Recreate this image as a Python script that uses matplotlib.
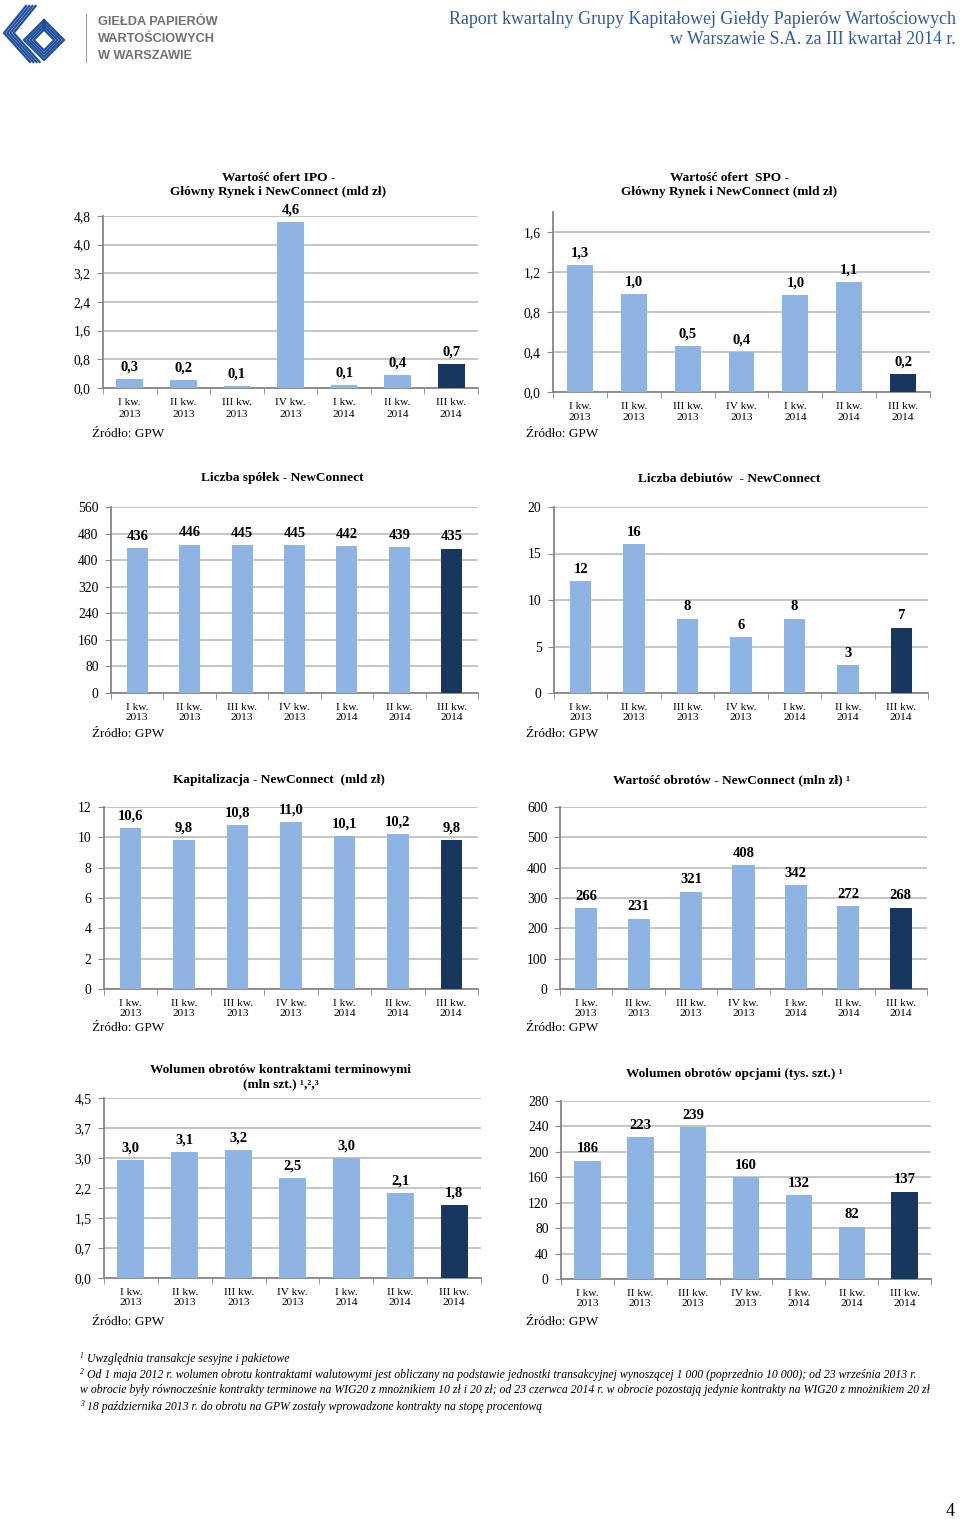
import matplotlib
matplotlib.use("Agg")
import matplotlib.pyplot as plt
from matplotlib.lines import Line2D

plt.rcParams["font.family"] = ["Liberation Serif", "DejaVu Serif"]

W, H = 960, 1519
LIGHT = "#8DB4E2"
DARK = "#17375E"
GRID = "#BFBFBF"
AXIS = "#868686"

# --- data -----------------------------------------------------------------
quarters = ["I kw.\n2013", "II kw.\n2013", "III kw.\n2013", "IV kw.\n2013",
            "I kw.\n2014", "II kw.\n2014", "III kw.\n2014"]

ipo_value = [0.26, 0.22, 0.06, 4.64, 0.08, 0.37, 0.66]
spo_value = [1.27, 0.98, 0.46, 0.40, 0.97, 1.10, 0.18]
nc_companies = [436, 446, 445, 445, 442, 439, 435]
nc_debuts = [12, 16, 8, 6, 8, 3, 7]
nc_cap = [10.6, 9.8, 10.8, 11.0, 10.1, 10.2, 9.8]
nc_turnover = [266, 231, 321, 408, 342, 272, 268]
futures_vol = [2.96, 3.14, 3.21, 2.51, 3.00, 2.12, 1.82]
options_vol = [186, 223, 239, 160, 132, 82, 137]

futures_ticks = [0, 0.75, 1.5, 2.25, 3.0, 3.75, 4.5]
futures_ticklabels = ["0,0", "0,7", "1,5", "2,2", "3,0", "3,7", "4,5"]


def fx(x):
    return x / W


def fy(y):
    return 1 - y / H


def comma(v, dec):
    return f"{v:.{dec}f}".replace(".", ",")


def bar_chart(fig, box, values, title, title_y, ylim, yticks, ylabels,
              dec, width, src_y, src_x, tick_gap=1.15, tick_pad=7):
    x0, x1, y0, y1 = box  # pixel coords: left, right, zero line, top
    ax = fig.add_axes([fx(x0), fy(y0), (x1 - x0) / W, (y0 - y1) / H])
    colors = [LIGHT] * (len(values) - 1) + [DARK]
    ax.bar(range(len(values)), values, width=width, color=colors, zorder=3)
    ax.set_xlim(-0.5, len(values) - 0.5)
    ax.set_ylim(*ylim)
    ax.set_yticks(yticks)
    ax.set_yticklabels(ylabels, fontsize=9.8)
    ax.set_xticks(range(len(values)))
    ax.set_xticklabels(quarters, fontsize=8.2, linespacing=tick_gap)
    ax.set_xticks([i - 0.5 for i in range(len(values) + 1)], minor=True)
    ax.tick_params(axis="x", which="major", length=0, pad=tick_pad)
    ax.tick_params(axis="x", which="minor", length=4, color=AXIS, direction="out")
    ax.tick_params(axis="y", length=4, color=AXIS, pad=5)
    ax.grid(axis="y", color=GRID, linewidth=1.3, zorder=0)
    for s in ["top", "right"]:
        ax.spines[s].set_visible(False)
    for s in ["left", "bottom"]:
        ax.spines[s].set_color(AXIS)
        ax.spines[s].set_linewidth(1.3)
    for i, v in enumerate(values):
        ax.annotate(comma(v, dec), (i, v), xytext=(0, 4), textcoords="offset points",
                    ha="center", va="bottom", fontsize=10.5, fontweight="bold")
    cx = (x0 + x1) / 2 - 12
    fig.text(fx(cx), fy(title_y), title, ha="center", va="center",
             fontsize=9.6, fontweight="bold", linespacing=1.2)
    fig.text(fx(src_x), fy(src_y), "Źródło: GPW", ha="left", va="center", fontsize=9.5)
    return ax


fig = plt.figure(figsize=(W / 100, H / 100), dpi=100)

# --- header ---------------------------------------------------------------
blue_logo = "#1D4F9B"
for k in range(4):
    d = k * 3.2
    fig.add_artist(Line2D([fx(26 + d), fx(4 + d), fx(30 + d)],
                          [fy(6), fy(33), fy(62)], color=blue_logo, lw=1.6))
    s = 20 - k * 3.2
    cx, cy = 44, 40
    fig.add_artist(Line2D([fx(cx), fx(cx + s), fx(cx), fx(cx - s), fx(cx)],
                          [fy(cy - s), fy(cy), fy(cy + s), fy(cy), fy(cy - s)],
                          color=blue_logo, lw=1.6))
fig.add_artist(Line2D([fx(86), fx(86)], [fy(14), fy(62)], color="#9A9A9A", lw=0.8))
for i, t in enumerate(["GIEŁDA PAPIERÓW", "WARTOŚCIOWYCH", "W WARSZAWIE"]):
    fig.text(fx(98), fy(22 + i * 17), t, ha="left", va="center", fontsize=9.2,
             fontweight="bold", color="#707070", family="Liberation Sans")

fig.text(fx(956), fy(20), "Raport kwartalny Grupy Kapitałowej Giełdy Papierów Wartościowych",
         ha="right", va="center", fontsize=12.9, color="#2D5BA8")
fig.text(fx(956), fy(40), "w Warszawie S.A. za III kwartał 2014 r.",
         ha="right", va="center", fontsize=12.9, color="#2D5BA8")

# --- charts ---------------------------------------------------------------
bar_chart(fig, (103, 478, 388, 216), ipo_value,
          "Wartość ofert IPO -\nGłówny Rynek i NewConnect (mld zł)", 185,
          (0, 4.8), [0, 0.8, 1.6, 2.4, 3.2, 4.0, 4.8],
          ["0,0", "0,8", "1,6", "2,4", "3,2", "4,0", "4,8"], 1, 0.5, 434, 92, 1.4, 7.5)

bar_chart(fig, (553, 930, 392, 212), spo_value,
          "Wartość ofert  SPO -\nGłówny Rynek i NewConnect (mld zł)", 185,
          (0, 1.8), [0, 0.4, 0.8, 1.2, 1.6],
          ["0,0", "0,4", "0,8", "1,2", "1,6"], 1, 0.48, 434, 526, 1.2, 7.5)

bar_chart(fig, (111, 478, 693, 507), nc_companies,
          "Liczba spółek - NewConnect", 478,
          (0, 560), list(range(0, 561, 80)),
          [str(v) for v in range(0, 561, 80)], 0, 0.4, 734, 92)

bar_chart(fig, (554, 928, 693, 507), nc_debuts,
          "Liczba debiutów  - NewConnect", 479,
          (0, 20), list(range(0, 21, 5)),
          [str(v) for v in range(0, 21, 5)], 0, 0.4, 734, 526)

bar_chart(fig, (104, 478, 989, 807), nc_cap,
          "Kapitalizacja - NewConnect  (mld zł)", 780,
          (0, 12), list(range(0, 13, 2)),
          [str(v) for v in range(0, 13, 2)], 1, 0.4, 1028, 92)

bar_chart(fig, (560, 927, 989, 807), nc_turnover,
          "Wartość obrotów - NewConnect (mln zł) ¹", 780,
          (0, 600), list(range(0, 601, 100)),
          [str(v) for v in range(0, 601, 100)], 0, 0.42, 1028, 526)

bar_chart(fig, (104, 481, 1278, 1098), futures_vol,
          "Wolumen obrotów kontraktami terminowymi\n(mln szt.) ¹,²,³", 1077,
          (0, 4.5), futures_ticks, futures_ticklabels, 1, 0.5, 1322, 92)

bar_chart(fig, (561, 931, 1279, 1101), options_vol,
          "Wolumen obrotów opcjami (tys. szt.) ¹", 1074,
          (0, 280), list(range(0, 281, 40)),
          [str(v) for v in range(0, 281, 40)], 0, 0.5, 1322, 526)

# --- footnotes ------------------------------------------------------------
notes = [
    ("1", "Uwzględnia transakcje sesyjne i pakietowe", 1359),
    ("2", "Od 1 maja 2012 r. wolumen obrotu kontraktami walutowymi jest obliczany na podstawie "
          "jednostki transakcyjnej wynoszącej 1 000 (poprzednio 10 000); od 23 września 2013 r.", 1375),
    ("", "w obrocie były równocześnie kontrakty terminowe na WIG20 z mnożnikiem 10 zł i 20 zł; "
         "od 23 czerwca 2014 r. w obrocie pozostają jedynie kontrakty na WIG20 z mnożnikiem 20 zł", 1390),
    ("3", "18 października 2013 r. do obrotu na GPW zostały wprowadzone kontrakty na stopę procentową", 1407),
]
for num, txt, y in notes:
    if num:
        fig.text(fx(80), fy(y - 3), num, ha="left", va="center", fontsize=5.5, style="italic")
    fig.text(fx(87 if num else 80), fy(y), txt, ha="left", va="center",
             fontsize=8.5, style="italic")

fig.text(fx(955), fy(1511), "4", ha="right", va="center", fontsize=13)

fig.savefig("out.png", dpi=100)
